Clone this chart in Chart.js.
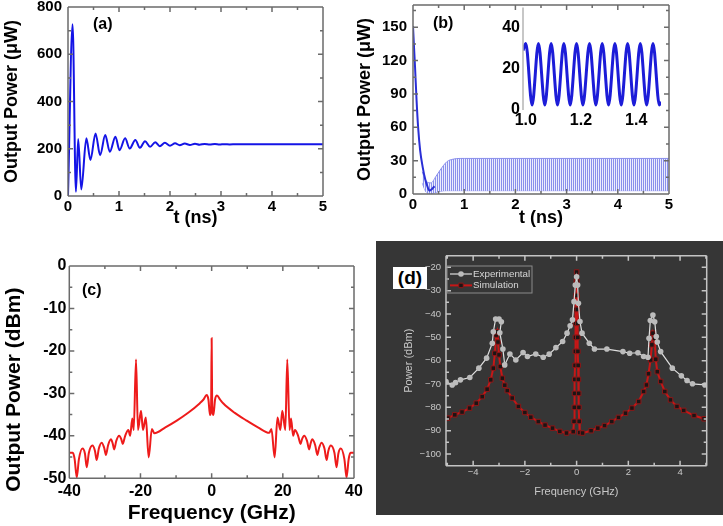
<!DOCTYPE html>
<html>
<head>
<meta charset="utf-8">
<script src="https://cdn.jsdelivr.net/npm/chart.js@4/dist/chart.umd.min.js"></script>
<style>
  body { margin: 0; background: #fff; }
  #page { position: relative; width: 723px; height: 526px; overflow: hidden; background: #fff; }
  canvas { position: absolute; }
  .lbl { position: absolute; font: bold 16px 'Liberation Sans', Arial, sans-serif; line-height: 16px; color: #000; }
</style>
</head>
<body>
<div id="page">
  <canvas id="ca" width="345" height="235" style="left:0;top:0"></canvas>
  <canvas id="cb" width="378" height="235" style="left:345px;top:0"></canvas>
  <canvas id="ci" width="200" height="135" style="left:470px;top:0"></canvas>
  <canvas id="cc" width="370" height="286" style="left:0;top:240px"></canvas>
  <canvas id="cd" width="347" height="274" style="left:376px;top:241px;background:#363636"></canvas>
  <div class="lbl" style="left:93px;top:16px">(a)</div>
  <div class="lbl" style="left:433px;top:15px">(b)</div>
  <div class="lbl" style="left:82px;top:282px">(c)</div>
  <div class="lbl" style="left:393px;top:267px;width:34px;height:22px;line-height:22px;font-size:19px;text-align:center;background:#fff">(d)</div>
</div>
<script>
// (a) relaxation oscillation, peaks and troughs
const aTime  = [0, 0.09, 0.155, 0.20, 0.26, 0.36, 0.44, 0.54, 0.63, 0.73, 0.82, 0.93, 1.01, 1.12, 1.21, 1.32, 1.41, 1.51, 1.61, 1.71, 1.80, 1.90, 2.00, 2.10, 2.19, 2.29, 2.39, 2.49, 2.58, 2.68, 2.78, 2.88, 2.97, 3.07, 3.17, 3.30, 5.0];
const aPower = [0, 727, 18, 241, 28, 244, 152, 265, 173, 258, 187, 251, 194, 244, 201, 237, 204, 232, 208, 228, 211, 225, 213, 223, 215, 222, 216, 221, 217, 220.5, 217.5, 220, 218, 219.5, 218.5, 219, 219];
const aTicksX = [0, 1, 2, 3, 4, 5];
const aTicksY = [0, 200, 400, 600, 800];

// (b) decay then sustained oscillation band (upper / lower envelope)
const bDecayTime  = [0, 0.02, 0.04, 0.07, 0.10, 0.14, 0.19, 0.24, 0.28, 0.32, 0.36, 0.42];
const bDecayPower = [151, 132, 114, 84, 60, 39, 24, 13, 7, 3, 4, 7];
const bBandTime  = [0.18, 0.22, 0.27, 0.35, 0.45, 0.53, 0.66, 0.79, 0.92, 1.0, 5.0];
const bBandUpper = [20, 15, 11, 10, 16, 21.5, 29, 31.4, 32, 32, 32];
const bBandLower = [10, 5, 1, 0.3, 1.5, 2.5, 3, 3, 3, 3, 3];
const bTicksX = [0, 1, 2, 3, 4, 5];
const bTicksY = [0, 30, 60, 90, 120, 150];

// (b) inset, 1.0 - 1.5 ns
const insetTime  = [0.99, 1.000, 1.023, 1.046, 1.069, 1.092, 1.115, 1.138, 1.161, 1.184, 1.207, 1.231, 1.254, 1.277, 1.300, 1.323, 1.346, 1.369, 1.392, 1.415, 1.438, 1.461, 1.484, 1.49];
const insetPower = [29, 32.5, 2.5, 32.5, 2.5, 32.5, 2.5, 32.5, 2.5, 32.5, 2.5, 32.5, 2.5, 32.5, 2.5, 32.5, 2.5, 32.5, 2.5, 32.5, 2.5, 32.5, 2.5, 4];
const insetTicksX = [1.0, 1.2, 1.4];
const insetTicksY = [0, 20, 40];

// (c) optical spectrum
const cFreq = [-40, -39.0, -38.5, -37.9, -37.3, -36.3, -35.6, -35.1, -34.5, -33.5, -32.8, -32.3, -31.7, -30.9, -30.2, -29.7, -29.1, -28.3, -27.8, -27.4, -26.8, -26.0, -25.4, -25.0, -24.3, -23.4, -22.9, -22.3, -21.9, -21.25, -20.7, -19.85, -19.3, -18.5, -17.7, -16.8, -16.1, -13, -9.8, -6.5, -3.3, -2.35, -1.4, -0.9, -0.47, -0.15, 0, 0.15, 0.5, 0.95, 1.5, 2.4, 3.3, 6.5, 9.8, 13, 16.2, 16.8, 17.7, 18.5, 19.3, 19.85, 20.7, 21.25, 21.9, 22.3, 22.9, 23.4, 24.3, 25.0, 25.4, 26.0, 26.8, 27.4, 27.8, 28.3, 29.1, 29.7, 30.2, 30.9, 31.7, 32.3, 32.8, 33.5, 34.5, 35.1, 35.6, 36.3, 37.3, 37.9, 38.5, 39.0, 40];
const cPower = [-44.0, -44.0, -45.5, -49.8, -45.5, -43.0, -44.2, -47.4, -44.0, -42.3, -43.5, -45.7, -43.0, -41.6, -42.8, -44.5, -42.2, -40.8, -41.8, -43.2, -41.2, -40.0, -40.8, -41.9, -40.0, -38.6, -40.0, -35.9, -38.6, -22.0, -38.6, -34.1, -38.6, -35.7, -45.1, -38.4, -39.4, -38.0, -36.4, -34.5, -32.3, -31.5, -30.4, -31.5, -35.1, -33.0, -17.0, -33.0, -35.1, -31.5, -30.5, -31.5, -32.4, -34.6, -36.4, -38.0, -39.3, -38.4, -45.1, -35.7, -38.6, -34.1, -38.6, -22.0, -38.6, -35.9, -40.0, -38.6, -40.0, -41.9, -40.8, -40.0, -41.2, -43.2, -41.8, -40.8, -42.2, -44.5, -42.8, -41.6, -43.0, -45.7, -43.5, -42.3, -44.0, -47.4, -44.2, -43.0, -45.5, -49.8, -45.5, -44.0, -44.0];
const cTicksX = [-40, -20, 0, 20, 40];
const cTicksY = [-50, -40, -30, -20, -10, 0];

// (d) experiment vs simulation
const dExpFreq  = [-5.05, -4.81, -4.68, -4.49, -4.13, -3.78, -3.48, -3.26, -3.22, -3.13, -3.0, -2.91, -2.97, -2.85, -2.78, -2.58, -2.35, -2.07, -1.9, -1.58, -1.29, -1.06, -0.8, -0.54, -0.37, -0.25, -0.16, -0.1, -0.05, 0.0, 0.04, 0.07, 0.13, 0.21, 0.49, 0.69, 1.17, 1.79, 2.05, 2.37, 2.59, 2.76, 2.8, 2.85, 2.95, 3.02, 3.08, 3.12, 3.25, 3.7, 4.05, 4.27, 4.48, 4.96];
const dExpPower = [-68.9, -70.4, -69.4, -68.2, -67.2, -63.2, -58.9, -52.5, -47.6, -42.1, -42.1, -43.3, -48.0, -55.0, -61.8, -57.1, -59.7, -56.5, -58.2, -57.1, -58.5, -57.2, -54.4, -51.8, -48.2, -45.0, -42.5, -34.7, -27.6, -24.0, -27.6, -35.4, -43.2, -48.2, -52.5, -55.0, -55.0, -56.1, -56.8, -56.6, -58.2, -58.5, -50.4, -42.8, -40.4, -43.3, -49.6, -52.0, -56.1, -63.2, -66.5, -68.5, -69.9, -70.4];
const dSimFreq  = [-4.98, -4.71, -4.43, -4.14, -3.88, -3.65, -3.46, -3.32, -3.22, -3.16, -3.11, -3.07, -3.04, -3.0, -2.95, -2.87, -2.78, -2.68, -2.49, -2.25, -2.0, -1.77, -1.48, -1.22, -0.93, -0.65, -0.39, -0.13, -0.1, -0.09, -0.08, -0.07, -0.06, -0.05, -0.045, -0.04, -0.03, -0.02, -0.01, 0, 0.01, 0.02, 0.03, 0.04, 0.045, 0.05, 0.06, 0.07, 0.08, 0.09, 0.1, 0.12, 0.23, 0.56, 0.82, 1.08, 1.36, 1.62, 1.89, 2.14, 2.4, 2.59, 2.7, 2.78, 2.86, 2.91, 2.95, 3.02, 3.06, 3.12, 3.25, 3.41, 3.63, 3.88, 4.14, 4.54, 4.93];
const dSimPower = [-84.6, -83.2, -82.0, -80.3, -78.2, -75.4, -72.2, -68.2, -63.2, -56.8, -49.0, -47.6, -52.0, -57.5, -62.5, -67.5, -70.5, -72.8, -76.0, -79.6, -82.2, -84.2, -86.1, -87.6, -88.9, -90.3, -91.0, -90.4, -86, -80, -74, -68, -62, -56, -50, -44, -38, -32, -26, -22, -26, -32, -38, -44, -50, -56, -62, -68, -74, -80, -86, -90.8, -91.0, -90.0, -88.9, -87.8, -86.1, -84.3, -82.5, -80.3, -77.5, -73.2, -70.4, -65.6, -59.7, -53.2, -48.2, -50.4, -59.4, -64.7, -68.9, -73.2, -76.8, -79.6, -81.3, -83.5, -84.9];
const dTicksX = [-4, -2, 0, 2, 4];
const dTicksY = [-100, -90, -80, -70, -60, -50, -40, -30, -20];
const dLabels = ['Experimental', 'Simulation'];

const pts = (xs, ys) => xs.map((x, i) => ({x: x, y: ys[i]}));

Chart.defaults.font.family = "'Liberation Sans', Arial, sans-serif";
Chart.defaults.color = '#000';
Chart.defaults.animation = false;
Chart.defaults.plugins.legend.display = false;
Chart.defaults.plugins.tooltip.enabled = false;
Chart.defaults.elements.point.radius = 0;

// Origin style box with inward ticks
const frameTicks = {
  id: 'frameTicks',
  defaults: {color: '#6b6b6b', width: 1.5, major: 5, minor: 3, sides: ['left', 'right', 'top', 'bottom']},
  afterDatasetsDraw(chart, args, o) {
    const {ctx, chartArea: a} = chart;
    const sx = chart.scales.x, sy = chart.scales.y;
    const minors = s => {
      const v = s.ticks.map(t => t.value), step = v[1] - v[0], out = [];
      v.forEach(t => [t - step / 2, t + step / 2].forEach(m => {
        if (m >= s.min && m <= s.max && !out.some(q => Math.abs(q - m) < 1e-9)) out.push(m);
      }));
      return out;
    };
    const has = s => o.sides.includes(s);
    ctx.save();
    ctx.strokeStyle = o.color;
    ctx.lineWidth = o.width;
    ctx.beginPath();
    if (has('left')) { ctx.moveTo(a.left, a.top); ctx.lineTo(a.left, a.bottom); }
    if (has('right')) { ctx.moveTo(a.right, a.top); ctx.lineTo(a.right, a.bottom); }
    if (has('top')) { ctx.moveTo(a.left, a.top); ctx.lineTo(a.right, a.top); }
    if (has('bottom')) { ctx.moveTo(a.left, a.bottom); ctx.lineTo(a.right, a.bottom); }
    const markX = (vals, len) => vals.forEach(v => {
      const p = sx.getPixelForValue(v);
      if (has('bottom')) { ctx.moveTo(p, a.bottom); ctx.lineTo(p, a.bottom - len); }
      if (has('top')) { ctx.moveTo(p, a.top); ctx.lineTo(p, a.top + len); }
    });
    const markY = (vals, len) => vals.forEach(v => {
      const p = sy.getPixelForValue(v);
      if (has('left')) { ctx.moveTo(a.left, p); ctx.lineTo(a.left + len, p); }
      if (has('right')) { ctx.moveTo(a.right, p); ctx.lineTo(a.right - len, p); }
    });
    if (o.major) {
      markX(sx.ticks.map(t => t.value), o.major);
      markY(sy.ticks.map(t => t.value), o.major);
      markX(minors(sx), o.minor);
      markY(minors(sy), o.minor);
    }
    ctx.stroke();
    ctx.restore();
  }
};
Chart.register(frameTicks);

// boxed legend for (d), line sample with marker
const boxLegend = {
  id: 'boxLegend',
  afterDraw(chart, args, o) {
    const ctx = chart.ctx;
    ctx.save();
    ctx.strokeStyle = o.borderColor;
    ctx.lineWidth = 1;
    ctx.strokeRect(o.x, o.y, o.w, o.h);
    ctx.font = o.fontSize + 'px ' + Chart.defaults.font.family;
    ctx.textBaseline = 'middle';
    chart.data.datasets.forEach((ds, i) => {
      const cy = o.y + o.first + i * o.gap;
      ctx.strokeStyle = ds.borderColor;
      ctx.lineWidth = ds.borderWidth;
      ctx.beginPath();
      ctx.moveTo(o.x + 3, cy);
      ctx.lineTo(o.x + 25, cy);
      ctx.stroke();
      const mx = o.x + 14, r = ds.pointRadius;
      ctx.fillStyle = ds.pointBackgroundColor;
      ctx.strokeStyle = ds.pointBorderColor;
      ctx.lineWidth = ds.pointBorderWidth;
      ctx.beginPath();
      if (ds.pointStyle === 'rect') {
        const h = r * Math.SQRT1_2;
        ctx.rect(mx - h, cy - h, 2 * h, 2 * h);
      } else {
        ctx.arc(mx, cy, r, 0, Math.PI * 2);
      }
      ctx.fill();
      if (ds.pointBorderWidth) ctx.stroke();
      ctx.fillStyle = o.color;
      ctx.fillText(ds.label, o.x + 26, cy);
    });
    ctx.restore();
  }
};

function axis(pos, min, max, tickVals, boxSize, o) {
  const horiz = pos === 'bottom';
  return {
    type: 'linear', position: pos, min: min, max: max,
    grid: {display: false, drawTicks: false},
    border: {display: false},
    afterBuildTicks: s => { s.ticks = tickVals.map(v => ({value: v})); },
    afterFit: s => {
      if (horiz) { s.height = boxSize; s.paddingLeft = 0; s.paddingRight = 0; }
      else { s.width = boxSize; s.paddingTop = 0; s.paddingBottom = 0; }
    },
    ticks: {
      padding: o.pad, color: o.color || '#000', maxRotation: 0, autoSkip: false,
      font: {size: o.size, weight: o.weight || 'bold'},
      callback: o.fmt || (v => v)
    },
    title: {
      display: !!o.title, text: o.title, color: o.color || '#000',
      font: {size: o.titleSize, weight: o.weight || 'bold'},
      padding: {top: o.titlePad || 0, bottom: o.titlePad || 0}
    }
  };
}

// (a)
new Chart(document.getElementById('ca'), {
  type: 'line',
  data: {datasets: [{data: pts(aTime, aPower), borderColor: '#1414e6', borderWidth: 2, cubicInterpolationMode: 'monotone'}]},
  options: {
    responsive: false, devicePixelRatio: 1,
    layout: {padding: {left: 0, top: 7, right: 22, bottom: 0}},
    scales: {
      x: axis('bottom', 0, 5, aTicksX, 39, {pad: 2, size: 15, title: 't (ns)', titleSize: 18, titlePad: 6}),
      y: axis('left', 0, 800, aTicksY, 68, {pad: 6, size: 15, title: 'Output Power (\u03bcW)', titleSize: 18, titlePad: 1})
    }
  }
});

// (b)
const stripeCanvas = document.createElement('canvas');
stripeCanvas.width = 2; stripeCanvas.height = 1;
const sg = stripeCanvas.getContext('2d');
sg.fillStyle = '#8a90ec'; sg.fillRect(0, 0, 1, 1);
sg.fillStyle = '#eceefd'; sg.fillRect(1, 0, 1, 1);
const stripes = sg.createPattern(stripeCanvas, 'repeat');

new Chart(document.getElementById('cb'), {
  type: 'line',
  data: {datasets: [
    {data: pts(bDecayTime, bDecayPower), borderColor: '#2a2fd6', borderWidth: 2, cubicInterpolationMode: 'monotone'},
    {data: pts(bBandTime, bBandUpper), borderColor: '#8a8fec', borderWidth: 1, fill: '+1', backgroundColor: stripes, cubicInterpolationMode: 'monotone'},
    {data: pts(bBandTime, bBandLower), borderColor: '#8a8fec', borderWidth: 1, fill: false, cubicInterpolationMode: 'monotone'}
  ]},
  options: {
    responsive: false, devicePixelRatio: 1,
    layout: {padding: {left: 0, top: 5, right: 54, bottom: 0}},
    scales: {
      x: axis('bottom', 0, 5, bTicksX, 41, {pad: 2, size: 15, title: 't (ns)', titleSize: 18, titlePad: 6}),
      y: axis('left', 0, 170, bTicksY, 68, {pad: 6, size: 15, title: 'Output Power (\u03bcW)', titleSize: 18, titlePad: 9})
    }
  }
});

// (b) inset
new Chart(document.getElementById('ci'), {
  type: 'line',
  data: {datasets: [{data: pts(insetTime, insetPower), borderColor: '#1c1cd8', borderWidth: 3, cubicInterpolationMode: 'monotone'}]},
  options: {
    responsive: false, devicePixelRatio: 1,
    layout: {padding: {left: 0, top: 7.5, right: 9, bottom: 0}},
    plugins: {frameTicks: {color: '#b4b4b4', width: 1.5, major: 0, sides: ['left']}},
    scales: {
      x: axis('bottom', 0.99, 1.49, insetTicksX, 25, {pad: 1, size: 16, fmt: v => v.toFixed(1)}),
      y: axis('left', 0, 50, insetTicksY, 53, {pad: 3, size: 16})
    }
  }
});

// (c)
new Chart(document.getElementById('cc'), {
  type: 'line',
  data: {datasets: [{data: pts(cFreq, cPower), borderColor: '#ee1b1b', borderWidth: 2, cubicInterpolationMode: 'monotone'}]},
  options: {
    responsive: false, devicePixelRatio: 1,
    layout: {padding: {left: 0, top: 26, right: 16, bottom: 0}},
    scales: {
      x: axis('bottom', -40, 40, cTicksX, 47.7, {pad: 4, size: 16, title: 'Frequency (GHz)', titleSize: 21, titlePad: 0}),
      y: axis('left', -50, 0, cTicksY, 69.3, {pad: 3, size: 16, title: 'Output Power (dBm)\u00a0\u00a0\u00a0\u00a0\u00a0\u00a0', titleSize: 21, titlePad: 1.4})
    }
  }
});

// (d)
const minus = v => String(v).replace('-', '\u2212');
new Chart(document.getElementById('cd'), {
  type: 'line',
  data: {datasets: [
    {label: dLabels[0], data: pts(dExpFreq, dExpPower), borderColor: '#dedede', borderWidth: 1.2,
     pointRadius: 2.8, pointStyle: 'circle', pointBackgroundColor: '#bcbcbc', pointBorderColor: '#bcbcbc', pointBorderWidth: 0},
    {label: dLabels[1], data: pts(dSimFreq, dSimPower), borderColor: '#c81616', borderWidth: 2,
     pointRadius: 3.2, pointStyle: 'rect', pointBackgroundColor: '#1c1414', pointBorderColor: '#8c1818', pointBorderWidth: 1}
  ]},
  plugins: [boxLegend],
  options: {
    responsive: false, devicePixelRatio: 1,
    layout: {padding: {left: 0, top: 14.7, right: 16.3, bottom: 0}},
    plugins: {
      frameTicks: {color: '#c4c4c4', width: 1.5, major: 5, minor: 3},
      boxLegend: {x: 71, y: 25, w: 85, h: 27, first: 8, gap: 11.4, fontSize: 9.8, color: '#d6d6d6', borderColor: '#8a8a8a'}
    },
    scales: {
      x: axis('bottom', -5.05, 5.03, dTicksX, 49.3, {pad: 1, size: 9.5, weight: 'normal', color: '#c8c8c8', fmt: minus, title: 'Frequency (GHz)', titleSize: 11, titlePad: 16}),
      y: axis('left', -105, -15, dTicksY, 70, {pad: 5, size: 9.5, weight: 'normal', color: '#c8c8c8', fmt: minus, title: 'Power (dBm)', titleSize: 11, titlePad: 26})
    }
  }
});
</script>
</body>
</html>
